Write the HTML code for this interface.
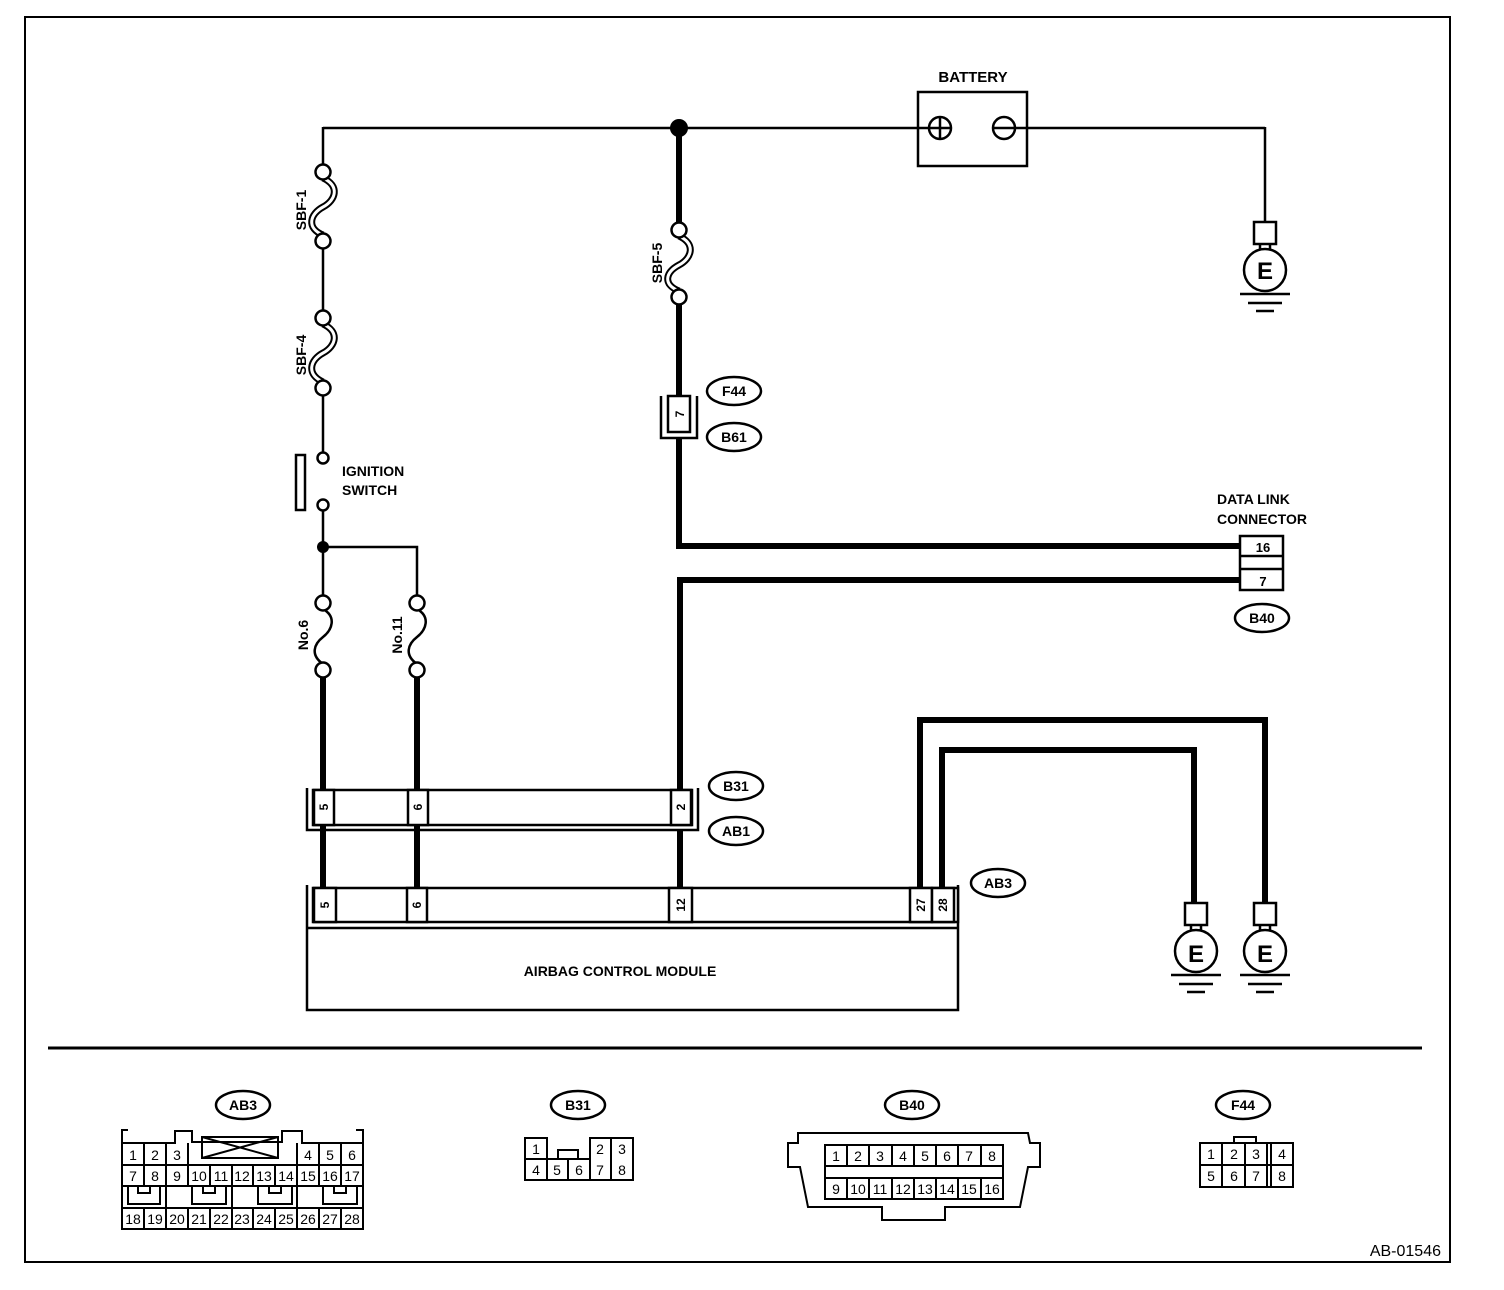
<!DOCTYPE html>
<html><head><meta charset="utf-8"><style>
html,body{margin:0;padding:0;background:#fff;}
svg{display:block;}
text{font-family:"Liberation Sans",sans-serif;font-weight:bold;fill:#000;}
.n text, text.n{font-weight:normal;}
</style></head><body>
<svg width="1504" height="1290" viewBox="0 0 1504 1290" xmlns="http://www.w3.org/2000/svg">
<rect x="0" y="0" width="1504" height="1290" fill="#fff"/>
<rect x="25" y="17" width="1425" height="1245" fill="none" stroke="#000" stroke-width="2"/>

<line x1="323" y1="128" x2="918" y2="128" stroke="#000" stroke-width="2.5"/>
<rect x="918" y="92" width="109" height="74" fill="#fff" stroke="#000" stroke-width="2.5"/>
<text x="973" y="82" font-size="15" text-anchor="middle">BATTERY</text>
<line x1="918" y1="128" x2="952" y2="128" stroke="#000" stroke-width="2.5"/>
<circle cx="940" cy="128" r="11" fill="none" stroke="#000" stroke-width="2.5"/>
<line x1="940" y1="117" x2="940" y2="139" stroke="#000" stroke-width="2.5"/>
<circle cx="1004" cy="128" r="11" fill="none" stroke="#000" stroke-width="2.5"/>
<line x1="993" y1="128" x2="1265" y2="128" stroke="#000" stroke-width="2.5"/>
<line x1="1265" y1="127" x2="1265" y2="222" stroke="#000" stroke-width="2.5"/>

<g id="g1" stroke="#000" stroke-width="2.5" fill="#fff">
<rect x="1254" y="222" width="22" height="22"/>
<line x1="1260" y1="244" x2="1260" y2="252"/><line x1="1270" y1="244" x2="1270" y2="252"/>
<circle cx="1265" cy="270" r="21"/>
<line x1="1240" y1="294" x2="1290" y2="294"/><line x1="1248" y1="303" x2="1282" y2="303"/><line x1="1256" y1="311" x2="1274" y2="311"/>
</g>
<text x="1265" y="279" font-size="24" text-anchor="middle">E</text>

<line x1="323" y1="127" x2="323" y2="164" stroke="#000" stroke-width="2.5"/>
<line x1="323" y1="249" x2="323" y2="310" stroke="#000" stroke-width="2.5"/>
<line x1="323" y1="396" x2="323" y2="452" stroke="#000" stroke-width="2.5"/>
<path d="M323,178 C340,186 336,200 323,207 S306,228 323,235" fill="none" stroke="#000" stroke-width="7"/>
<path d="M323,178 C340,186 336,200 323,207 S306,228 323,235" fill="none" stroke="#fff" stroke-width="3"/>
<circle cx="323" cy="172" r="7.5" fill="#fff" stroke="#000" stroke-width="2.5"/>
<circle cx="323" cy="241" r="7.5" fill="#fff" stroke="#000" stroke-width="2.5"/>
<text transform="translate(306,210) rotate(-90)" font-size="14" text-anchor="middle">SBF-1</text>
<path d="M323,324 C340,332 336,346 323,353 S306,374 323,382" fill="none" stroke="#000" stroke-width="7"/>
<path d="M323,324 C340,332 336,346 323,353 S306,374 323,382" fill="none" stroke="#fff" stroke-width="3"/>
<circle cx="323" cy="318" r="7.5" fill="#fff" stroke="#000" stroke-width="2.5"/>
<circle cx="323" cy="388" r="7.5" fill="#fff" stroke="#000" stroke-width="2.5"/>
<text transform="translate(306,355) rotate(-90)" font-size="14" text-anchor="middle">SBF-4</text>
<circle cx="323" cy="458" r="5.5" fill="#fff" stroke="#000" stroke-width="2.5"/>
<circle cx="323" cy="505" r="5.5" fill="#fff" stroke="#000" stroke-width="2.5"/>
<rect x="296" y="455" width="9" height="55" fill="#fff" stroke="#000" stroke-width="2.5"/>
<text x="342" y="476" font-size="14">IGNITION</text>
<text x="342" y="495" font-size="14">SWITCH</text>
<line x1="323" y1="511" x2="323" y2="596" stroke="#000" stroke-width="2.5"/>
<circle cx="323" cy="547" r="6" fill="#000"/>
<polyline points="323,547 417,547 417,596" fill="none" stroke="#000" stroke-width="2.5"/>
<path d="M323,609 C337,617 332,630 323,637 S310,655 323,664" fill="none" stroke="#000" stroke-width="2.5"/>
<circle cx="323" cy="603" r="7.5" fill="#fff" stroke="#000" stroke-width="2.5"/>
<circle cx="323" cy="670" r="7.5" fill="#fff" stroke="#000" stroke-width="2.5"/>
<text transform="translate(308,635) rotate(-90)" font-size="14" text-anchor="middle">No.6</text>
<path d="M417,609 C431,617 426,630 417,637 S404,655 417,664" fill="none" stroke="#000" stroke-width="2.5"/>
<circle cx="417" cy="603" r="7.5" fill="#fff" stroke="#000" stroke-width="2.5"/>
<circle cx="417" cy="670" r="7.5" fill="#fff" stroke="#000" stroke-width="2.5"/>
<text transform="translate(402,635) rotate(-90)" font-size="14" text-anchor="middle">No.11</text>
<line x1="323" y1="678" x2="323" y2="888" stroke="#000" stroke-width="6"/>
<line x1="417" y1="678" x2="417" y2="888" stroke="#000" stroke-width="6"/>

<line x1="679" y1="128" x2="679" y2="224" stroke="#000" stroke-width="6"/>
<circle cx="679" cy="128" r="9" fill="#000"/>
<path d="M679,236 C696,244 692,258 679,265 S662,284 679,291" fill="none" stroke="#000" stroke-width="7"/>
<path d="M679,236 C696,244 692,258 679,265 S662,284 679,291" fill="none" stroke="#fff" stroke-width="3"/>
<circle cx="679" cy="230" r="7.5" fill="#fff" stroke="#000" stroke-width="2.5"/>
<circle cx="679" cy="297" r="7.5" fill="#fff" stroke="#000" stroke-width="2.5"/>
<text transform="translate(662,263) rotate(-90)" font-size="14" text-anchor="middle">SBF-5</text>
<line x1="679" y1="305" x2="679" y2="396" stroke="#000" stroke-width="6"/>
<polyline points="661,396 661,438 697,438 697,396" fill="none" stroke="#000" stroke-width="2.5"/>
<rect x="668" y="396" width="22" height="36" fill="#fff" stroke="#000" stroke-width="2.5"/>
<text transform="translate(684,414) rotate(-90)" font-size="12" text-anchor="middle">7</text>
<polyline points="679,438 679,546 1240,546" fill="none" stroke="#000" stroke-width="6"/>
<polyline points="1240,580 680,580 680,790" fill="none" stroke="#000" stroke-width="6"/>

<text x="1217" y="504" font-size="14">DATA LINK</text>
<text x="1217" y="524" font-size="14">CONNECTOR</text>
<rect x="1240" y="536" width="43" height="54" fill="#fff" stroke="#000" stroke-width="2.5"/>
<line x1="1240" y1="556" x2="1283" y2="556" stroke="#000" stroke-width="2.5"/>
<line x1="1240" y1="569" x2="1283" y2="569" stroke="#000" stroke-width="2.5"/>
<text x="1263" y="552" font-size="13" text-anchor="middle">16</text>
<text x="1263" y="586" font-size="13" text-anchor="middle">7</text>

<polyline points="307,788 307,830 698,830 698,788" fill="none" stroke="#000" stroke-width="2.5"/>
<rect x="313" y="790" width="379" height="35" fill="#fff" stroke="#000" stroke-width="2.5"/>
<rect x="314" y="790" width="20" height="35" fill="#fff" stroke="#000" stroke-width="2.5"/>
<rect x="408" y="790" width="20" height="35" fill="#fff" stroke="#000" stroke-width="2.5"/>
<rect x="671" y="790" width="20" height="35" fill="#fff" stroke="#000" stroke-width="2.5"/>
<text transform="translate(328,807) rotate(-90)" font-size="12" text-anchor="middle">5</text>
<text transform="translate(422,807) rotate(-90)" font-size="12" text-anchor="middle">6</text>
<text transform="translate(685,807) rotate(-90)" font-size="12" text-anchor="middle">2</text>
<line x1="680" y1="830" x2="680" y2="888" stroke="#000" stroke-width="6"/>

<polyline points="920,888 920,720 1265,720 1265,903" fill="none" stroke="#000" stroke-width="6"/>
<polyline points="942,888 942,750 1194,750 1194,903" fill="none" stroke="#000" stroke-width="6"/>

<polyline points="307,885 307,1010 958,1010 958,885" fill="none" stroke="#000" stroke-width="2.5"/>
<line x1="307" y1="928" x2="958" y2="928" stroke="#000" stroke-width="2.5"/>
<rect x="313" y="888" width="645" height="34" fill="#fff" stroke="#000" stroke-width="2.5"/>
<rect x="314" y="888" width="22" height="34" fill="#fff" stroke="#000" stroke-width="2.5"/>
<rect x="407" y="888" width="20" height="34" fill="#fff" stroke="#000" stroke-width="2.5"/>
<rect x="669" y="888" width="23" height="34" fill="#fff" stroke="#000" stroke-width="2.5"/>
<rect x="910" y="888" width="22" height="34" fill="#fff" stroke="#000" stroke-width="2.5"/>
<rect x="932" y="888" width="22" height="34" fill="#fff" stroke="#000" stroke-width="2.5"/>
<text transform="translate(329,905) rotate(-90)" font-size="12" text-anchor="middle">5</text>
<text transform="translate(421,905) rotate(-90)" font-size="12" text-anchor="middle">6</text>
<text transform="translate(685,905) rotate(-90)" font-size="12" text-anchor="middle">12</text>
<text transform="translate(925,905) rotate(-90)" font-size="12" text-anchor="middle">27</text>
<text transform="translate(947,905) rotate(-90)" font-size="12" text-anchor="middle">28</text>
<text x="620" y="976" font-size="14" text-anchor="middle">AIRBAG CONTROL MODULE</text>

<use href="#g1" transform="translate(-69,681)"/>
<text x="1196" y="962" font-size="24" text-anchor="middle">E</text>
<use href="#g1" transform="translate(0,681)"/>
<text x="1265" y="962" font-size="24" text-anchor="middle">E</text>

<g stroke="#000" stroke-width="2.5" fill="#fff">
<ellipse cx="734" cy="391" rx="27" ry="14"/>
<ellipse cx="734" cy="437" rx="27" ry="14"/>
<ellipse cx="1262" cy="618" rx="27" ry="14"/>
<ellipse cx="736" cy="786" rx="27" ry="14"/>
<ellipse cx="736" cy="831" rx="27" ry="14"/>
<ellipse cx="998" cy="883" rx="27" ry="14"/>
<ellipse cx="243" cy="1105" rx="27" ry="14"/>
<ellipse cx="578" cy="1105" rx="27" ry="14"/>
<ellipse cx="912" cy="1105" rx="27" ry="14"/>
<ellipse cx="1243" cy="1105" rx="27" ry="14"/>
</g>
<g font-size="14" text-anchor="middle">
<text x="734" y="396">F44</text><text x="734" y="442">B61</text>
<text x="1262" y="623">B40</text><text x="736" y="791">B31</text>
<text x="736" y="836">AB1</text><text x="998" y="888">AB3</text>
<text x="243" y="1110">AB3</text><text x="578" y="1110">B31</text>
<text x="912" y="1110">B40</text><text x="1243" y="1110">F44</text>
</g>

<line x1="48" y1="1048" x2="1422" y2="1048" stroke="#000" stroke-width="3"/>

<g stroke="#000" stroke-width="2" fill="none">
<polyline points="128,1130 122,1130 122,1229 363,1229 363,1130 356,1130"/>
<polyline points="122,1143 175,1143 175,1131 192,1131 192,1142 282,1142 282,1131 302,1131 302,1143 363,1143"/>
<line x1="122" y1="1165" x2="363" y2="1165"/>
<line x1="122" y1="1186" x2="363" y2="1186"/>
<line x1="122" y1="1208" x2="363" y2="1208"/>
<line x1="144" y1="1143" x2="144" y2="1165"/><line x1="166" y1="1143" x2="166" y2="1165"/><line x1="188" y1="1143" x2="188" y2="1165"/>
<line x1="297" y1="1143" x2="297" y2="1165"/><line x1="319" y1="1143" x2="319" y2="1165"/><line x1="341" y1="1143" x2="341" y2="1165"/>
<rect x="202" y="1137" width="76" height="21"/>
<line x1="202" y1="1137" x2="278" y2="1158"/><line x1="202" y1="1158" x2="278" y2="1137"/>
</g>
<g stroke="#000" stroke-width="2">
<line x1="144" y1="1165" x2="144" y2="1186"/><line x1="166" y1="1165" x2="166" y2="1186"/><line x1="188" y1="1165" x2="188" y2="1186"/>
<line x1="210" y1="1165" x2="210" y2="1186"/><line x1="232" y1="1165" x2="232" y2="1186"/><line x1="253" y1="1165" x2="253" y2="1186"/>
<line x1="275" y1="1165" x2="275" y2="1186"/><line x1="297" y1="1165" x2="297" y2="1186"/><line x1="319" y1="1165" x2="319" y2="1186"/><line x1="341" y1="1165" x2="341" y2="1186"/>
<line x1="144" y1="1208" x2="144" y2="1229"/><line x1="166" y1="1208" x2="166" y2="1229"/><line x1="188" y1="1208" x2="188" y2="1229"/>
<line x1="210" y1="1208" x2="210" y2="1229"/><line x1="232" y1="1208" x2="232" y2="1229"/><line x1="253" y1="1208" x2="253" y2="1229"/>
<line x1="275" y1="1208" x2="275" y2="1229"/><line x1="297" y1="1208" x2="297" y2="1229"/><line x1="319" y1="1208" x2="319" y2="1229"/><line x1="341" y1="1208" x2="341" y2="1229"/>
<line x1="166" y1="1186" x2="166" y2="1208"/><line x1="232" y1="1186" x2="232" y2="1208"/><line x1="297" y1="1186" x2="297" y2="1208"/>
</g>
<g stroke="#000" stroke-width="2" fill="none">
<polyline points="128,1186 128,1204 160,1204 160,1186"/><polyline points="138,1186 138,1193 150,1193 150,1186"/>
<polyline points="192,1186 192,1204 226,1204 226,1186"/><polyline points="203,1186 203,1193 215,1193 215,1186"/>
<polyline points="258,1186 258,1204 292,1204 292,1186"/><polyline points="269,1186 269,1193 281,1193 281,1186"/>
<polyline points="323,1186 323,1204 357,1204 357,1186"/><polyline points="334,1186 334,1193 346,1193 346,1186"/>
</g>
<g class="n" font-size="14" text-anchor="middle">
<text x="133" y="1160">1</text><text x="155" y="1160">2</text><text x="177" y="1160">3</text>
<text x="308" y="1160">4</text><text x="330" y="1160">5</text><text x="352" y="1160">6</text>
<text x="133" y="1181">7</text><text x="155" y="1181">8</text><text x="177" y="1181">9</text><text x="199" y="1181">10</text><text x="221" y="1181">11</text><text x="242" y="1181">12</text><text x="264" y="1181">13</text><text x="286" y="1181">14</text><text x="308" y="1181">15</text><text x="330" y="1181">16</text><text x="352" y="1181">17</text>
<text x="133" y="1224">18</text><text x="155" y="1224">19</text><text x="177" y="1224">20</text><text x="199" y="1224">21</text><text x="221" y="1224">22</text><text x="242" y="1224">23</text><text x="264" y="1224">24</text><text x="286" y="1224">25</text><text x="308" y="1224">26</text><text x="330" y="1224">27</text><text x="352" y="1224">28</text>
</g>

<g stroke="#000" stroke-width="2" fill="none">
<polyline points="525,1159 525,1180 633,1180 633,1138 590,1138 590,1159 525,1159"/>
<rect x="525" y="1138" width="22" height="21"/>
<line x1="611" y1="1138" x2="611" y2="1180"/>
<line x1="590" y1="1159" x2="590" y2="1180"/><line x1="568" y1="1159" x2="568" y2="1180"/><line x1="547" y1="1159" x2="547" y2="1180"/>
<polyline points="558,1159 558,1150 578,1150 578,1159"/>
</g>
<g class="n" font-size="14" text-anchor="middle">
<text x="536" y="1154">1</text><text x="600" y="1154">2</text><text x="622" y="1154">3</text>
<text x="536" y="1175">4</text><text x="557" y="1175">5</text><text x="579" y="1175">6</text><text x="600" y="1175">7</text><text x="622" y="1175">8</text>
</g>

<g stroke="#000" stroke-width="2" fill="none">
<polygon points="798,1133 1028,1133 1030,1143 1040,1143 1040,1167 1028,1167 1020,1207 945,1207 945,1220 882,1220 882,1207 808,1207 800,1167 788,1167 788,1143 798,1143"/>
<rect x="825" y="1145" width="178" height="54"/>
<line x1="825" y1="1166" x2="1003" y2="1166"/><line x1="825" y1="1178" x2="1003" y2="1178"/>
</g>
<g stroke="#000" stroke-width="2">
<line x1="847" y1="1145" x2="847" y2="1166"/><line x1="869" y1="1145" x2="869" y2="1166"/><line x1="892" y1="1145" x2="892" y2="1166"/><line x1="914" y1="1145" x2="914" y2="1166"/><line x1="936" y1="1145" x2="936" y2="1166"/><line x1="958" y1="1145" x2="958" y2="1166"/><line x1="981" y1="1145" x2="981" y2="1166"/>
<line x1="847" y1="1178" x2="847" y2="1199"/><line x1="869" y1="1178" x2="869" y2="1199"/><line x1="892" y1="1178" x2="892" y2="1199"/><line x1="914" y1="1178" x2="914" y2="1199"/><line x1="936" y1="1178" x2="936" y2="1199"/><line x1="958" y1="1178" x2="958" y2="1199"/><line x1="981" y1="1178" x2="981" y2="1199"/>
</g>
<g class="n" font-size="14" text-anchor="middle">
<text x="836" y="1161">1</text><text x="858" y="1161">2</text><text x="880" y="1161">3</text><text x="903" y="1161">4</text><text x="925" y="1161">5</text><text x="947" y="1161">6</text><text x="969" y="1161">7</text><text x="992" y="1161">8</text>
<text x="836" y="1194">9</text><text x="858" y="1194">10</text><text x="880" y="1194">11</text><text x="903" y="1194">12</text><text x="925" y="1194">13</text><text x="947" y="1194">14</text><text x="969" y="1194">15</text><text x="992" y="1194">16</text>
</g>

<g stroke="#000" stroke-width="2" fill="none">
<rect x="1200" y="1143" width="93" height="44"/>
<line x1="1200" y1="1165" x2="1293" y2="1165"/>
<line x1="1222" y1="1143" x2="1222" y2="1187"/><line x1="1245" y1="1143" x2="1245" y2="1187"/>
<line x1="1267" y1="1143" x2="1267" y2="1187"/><line x1="1271" y1="1143" x2="1271" y2="1187"/>
<polyline points="1234,1143 1234,1137 1256,1137 1256,1143"/>
</g>
<g class="n" font-size="14" text-anchor="middle">
<text x="1211" y="1159">1</text><text x="1234" y="1159">2</text><text x="1256" y="1159">3</text><text x="1282" y="1159">4</text>
<text x="1211" y="1181">5</text><text x="1234" y="1181">6</text><text x="1256" y="1181">7</text><text x="1282" y="1181">8</text>
</g>

<text class="n" x="1441" y="1256" font-size="16" text-anchor="end">AB-01546</text>
</svg>
</body></html>
